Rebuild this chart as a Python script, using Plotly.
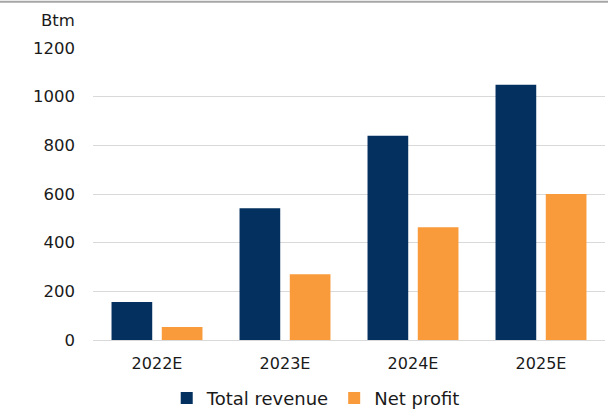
import plotly.graph_objects as go

categories = ["2022E", "2023E", "2024E", "2025E"]
total_revenue = [156, 541, 839, 1049]
net_profit = [53, 270, 463, 600]
y_ticks = [0, 200, 400, 600, 800, 1000, 1200]

NAVY = "#03305f"
ORANGE = "#f99b3a"
FONT = "DejaVu Sans"

fig = go.Figure()
fig.add_trace(go.Bar(name="Total revenue", x=categories, y=total_revenue,
                     marker=dict(color=NAVY, line=dict(width=0))))
fig.add_trace(go.Bar(name="Net profit", x=categories, y=net_profit,
                     marker=dict(color=ORANGE, line=dict(width=0))))

fig.update_layout(
    width=616, height=414,
    margin=dict(l=93, r=11, t=48, b=74, pad=0, autoexpand=False),
    paper_bgcolor="white", plot_bgcolor="white",
    barmode="group", bargap=0.215, bargroupgap=0.19,
    font=dict(family=FONT, size=16, color="#1a1a1a"),
    showlegend=True,
    legend=dict(orientation="h", x=0.435, xanchor="center", y=-0.2, yanchor="middle",
                font=dict(size=18), itemwidth=30, traceorder="normal",
                bgcolor="rgba(0,0,0,0)"),
    xaxis=dict(showgrid=False, showline=False, zeroline=False, ticks="",
               ticklabelstandoff=12, tickfont=dict(size=16)),
    yaxis=dict(range=[0, 1200], tickvals=y_ticks, showgrid=True, gridcolor="#d9d9d9",
               gridwidth=1, zeroline=True, zerolinecolor="#d9d9d9", zerolinewidth=1,
               showline=False, ticks="", ticklabelstandoff=17, tickfont=dict(size=16.5)),
    annotations=[dict(text="Btm", xref="paper", yref="paper", x=-0.031, y=1.0,
                      xanchor="right", yanchor="bottom", yshift=16, showarrow=False,
                      font=dict(size=16.5, family=FONT, color="#1a1a1a"))],
    shapes=[dict(type="line", xref="paper", yref="paper", x0=-0.1816, x1=1.0059,
                 y0=1.158, y1=1.158, line=dict(color="#a6a6a6", width=2))],
)

fig.write_html("out.html", config={"displayModeBar": False},
               post_script="document.body.style.margin='0';document.body.style.overflow='hidden';")
